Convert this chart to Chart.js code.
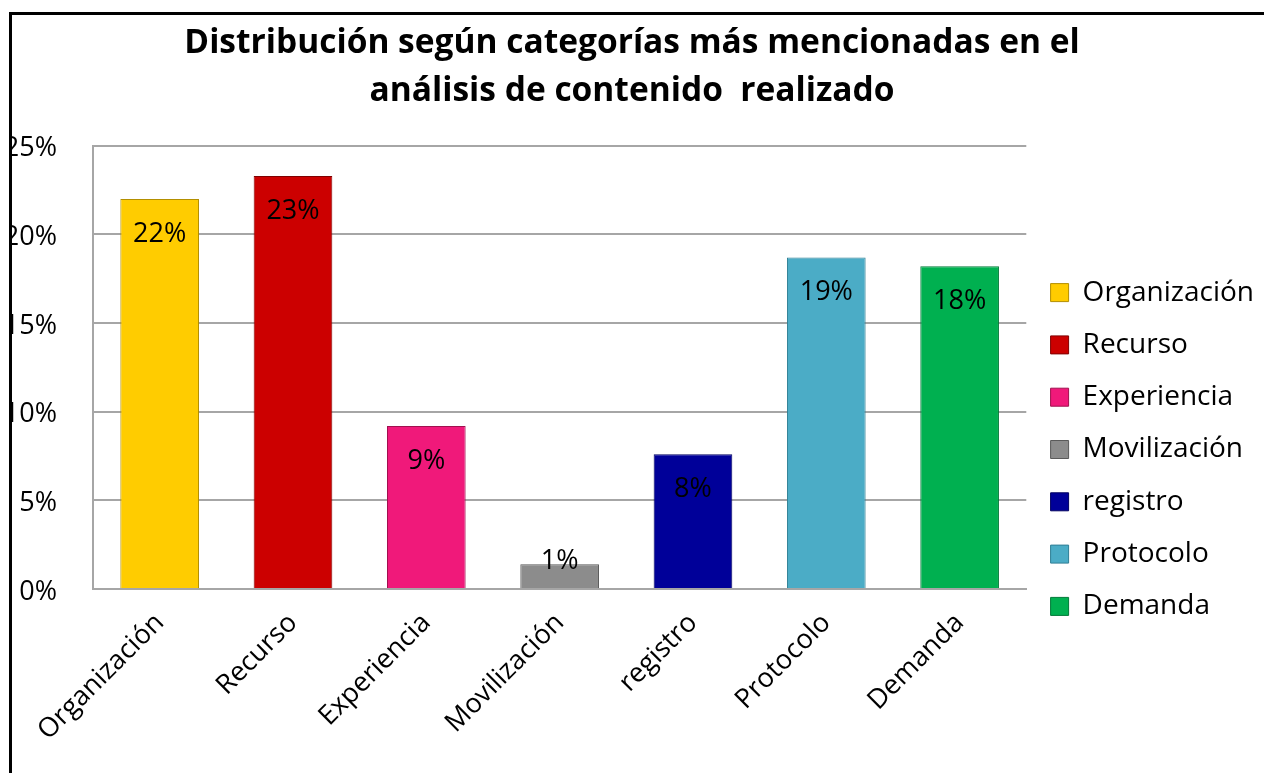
<!DOCTYPE html>
<html>
<head>
<meta charset="utf-8">
<script src="https://cdn.jsdelivr.net/npm/chart.js@4.4.1/dist/chart.umd.min.js"></script>
<style>
  html, body { margin: 0; padding: 0; background: #fff; }
  #wrap { position: relative; width: 1264px; height: 773px; overflow: hidden; }
  #grafico { position: absolute; left: 0; top: 0; }
  /* white margin and black frame over the left/top edge */
  .mask-left { position: absolute; left: 0; top: 0; width: 9px; height: 773px; background: #fff; }
  .mask-top { position: absolute; left: 0; top: 0; width: 1264px; height: 12px; background: #fff; }
  .frame-left { position: absolute; left: 9px; top: 12px; width: 3px; height: 761px; background: #000; }
  .frame-top { position: absolute; left: 9px; top: 12px; width: 1255px; height: 3px; background: #000; }
</style>
</head>
<body>
<div id="wrap">
  <canvas id="grafico" width="1264" height="773"></canvas>
  <div class="mask-left"></div>
  <div class="mask-top"></div>
  <div class="frame-left"></div>
  <div class="frame-top"></div>
</div>
<script>
// Datos del gráfico
const categorias = ['Organización', 'Recurso', 'Experiencia', 'Movilización', 'registro', 'Protocolo', 'Demanda'];
const porcentajes = [22.0, 23.3, 9.2, 1.4, 7.6, 18.7, 18.2];
const colores = ['#ffcc00', '#cc0000', '#f0197a', '#8c8c8c', '#000099', '#4bacc6', '#00b050'];
const bordes = ['#b38f00', '#800000', '#a0104f', '#5a5a5a', '#000060', '#2f7f95', '#007a38'];
const titulo = ['Distribución según categorías más mencionadas en el', 'análisis de contenido  realizado'];
const yMin = 0;
const yMax = 25;
const yPaso = 5;

const fuente = "'Open Sans', 'Noto Sans', sans-serif";

// Etiquetas de porcentaje dentro de cada barra
const etiquetasBarras = {
    id: 'etiquetasBarras',
    afterDatasetsDraw(chart) {
        const ctx = chart.ctx;
        const meta = chart.getDatasetMeta(0);
        ctx.save();
        ctx.font = '27px ' + fuente;
        ctx.fillStyle = '#000';
        ctx.textAlign = 'center';
        ctx.textBaseline = 'middle';
        meta.data.forEach((bar, i) => {
            const y = Math.min(bar.y + 35, bar.base - 27);
            ctx.fillText(Math.round(porcentajes[i]) + '%', bar.x, y);
        });
        ctx.restore();
    }
};

// Baja un poco la leyenda para que quede como en el original
const moverLeyenda = {
    id: 'moverLeyenda',
    afterLayout(chart) {
        if (chart.legend) {
            chart.legend.top += 63;
            chart.legend.bottom += 63;
        }
    }
};

new Chart(document.getElementById('grafico'), {
    type: 'bar',
    data: {
        labels: categorias,
        datasets: [{
            data: porcentajes,
            backgroundColor: colores,
            borderColor: bordes,
            borderWidth: 1,
            categoryPercentage: 1,
            barPercentage: 0.59
        }]
    },
    options: {
        responsive: false,
        animation: false,
        layout: { padding: 0 },
        scales: {
            x: {
                grid: { display: false },
                border: { display: true, color: '#a6a6a6', width: 2 },
                ticks: {
                    color: '#000',
                    font: { family: fuente, size: 27 },
                    minRotation: 45,
                    maxRotation: 45,
                    padding: 10
                },
                afterFit: function(scale) { scale.height = 184; }
            },
            y: {
                min: yMin,
                max: yMax,
                ticks: {
                    stepSize: yPaso,
                    color: '#000',
                    font: { family: fuente, size: 27 },
                    padding: 36,
                    labelOffset: 3,
                    callback: function(value) { return value + '%'; }
                },
                grid: { color: '#a6a6a6', lineWidth: 2, drawTicks: false },
                border: { display: true, color: '#a6a6a6', width: 2 },
                afterFit: function(scale) { scale.width = 93; }
            }
        },
        plugins: {
            title: {
                display: true,
                text: titulo,
                color: '#000',
                font: { family: fuente, size: 33.5, weight: 'bold', lineHeight: 1.43 },
                padding: { top: 20, bottom: 30 }
            },
            legend: {
                position: 'right',
                onClick: null,
                labels: {
                    color: '#000',
                    font: { family: fuente, size: 28 },
                    boxWidth: 18,
                    boxHeight: 18,
                    padding: 24.3,
                    generateLabels: function(chart) {
                        return categorias.map((c, i) => ({
                            text: c,
                            fillStyle: colores[i],
                            strokeStyle: bordes[i],
                            lineWidth: 1,
                            fontColor: '#000',
                            index: i
                        }));
                    }
                }
            },
            tooltip: { enabled: false }
        }
    },
    plugins: [etiquetasBarras, moverLeyenda]
});
</script>
</body>
</html>
